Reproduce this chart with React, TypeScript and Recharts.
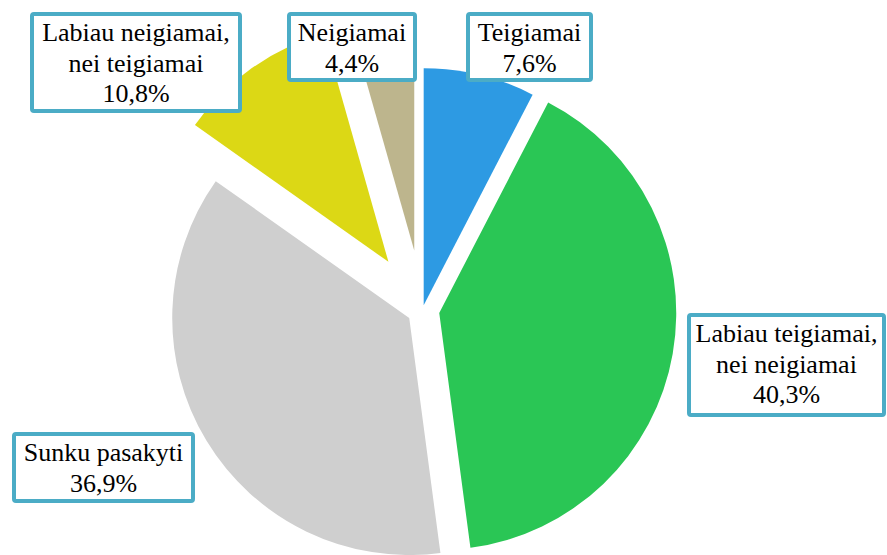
import { PieChart, Pie, Cell, Sector } from "recharts";

// Values (clockwise from 12 o'clock)
const categories = [
  "Teigiamai",
  "Labiau teigiamai, nei neigiamai",
  "Sunku pasakyti",
  "Labiau neigiamai, nei teigiamai",
  "Neigiamai",
];
const values = [7.6, 40.3, 36.9, 10.8, 4.4];
const labelLines = [
  ["Teigiamai"],
  ["Labiau teigiamai,", "nei neigiamai"],
  ["Sunku pasakyti"],
  ["Labiau neigiamai,", "nei teigiamai"],
  ["Neigiamai"],
];

const colors = ["#2D9AE3", "#2AC655", "#CFCFCF", "#DCD815", "#BDB58D"];
// how far each slice is pulled out of the pie, px
const explode = [5, 17, 15.5, 59, 60];
// label boxes: x, y, w, h (outer edge of border)
const labelBoxes = [
  [466, 12, 127, 70],
  [687, 313, 199, 104],
  [12, 432, 183, 71],
  [30, 12, 212, 101],
  [287, 12, 130, 70],
];

const data = categories.map((name, i) => ({ name, value: values[i] }));

const FONT = '"Liberation Serif", "Times New Roman", serif';
const BORDER = "#4BACC6";

const fmt = (v: number) => v.toFixed(1).replace(".", ",") + "%";

const ExplodedSlice = (props: any) => {
  const name = props.payload?.name ?? props.name;
  const idx = categories.indexOf(name);
  const d = explode[idx] ?? 0;
  const rad = (-props.midAngle * Math.PI) / 180;
  return (
    <Sector
      {...props}
      cx={props.cx + d * Math.cos(rad)}
      cy={props.cy + d * Math.sin(rad)}
    />
  );
};

const renderLabel = (props: any) => {
  const i = props.index;
  const [x, y, w, h] = labelBoxes[i];
  const lines = [...labelLines[i], fmt(values[i])];
  return (
    <g key={`lbl-${i}`}>
      <rect
        x={x + 2}
        y={y + 2}
        width={w - 4}
        height={h - 4}
        rx={2}
        fill="#fff"
        stroke={BORDER}
        strokeWidth={4}
      />
      <text
        x={x + w / 2}
        y={y + 29}
        textAnchor="middle"
        fontFamily={FONT}
        fontSize={26}
        fill="#000"
      >
        {lines.map((l, k) => (
          <tspan key={k} x={x + w / 2} dy={k === 0 ? 0 : 30.5}>
            {l}
          </tspan>
        ))}
      </text>
    </g>
  );
};

export default function App() {
  return (
    <div style={{ position: "absolute", left: 0, top: 0, background: "#fff" }}>
      <PieChart width={887} height={555} margin={{ top: 0, right: 0, bottom: 0, left: 0 }}>
        <Pie
          data={data}
          dataKey="value"
          nameKey="name"
          cx={422.5}
          cy={310}
          outerRadius={237}
          startAngle={90}
          endAngle={-270}
          stroke="none"
          shape={ExplodedSlice}
          activeShape={ExplodedSlice}
          inactiveShape={ExplodedSlice}
          label={renderLabel}
          labelLine={false}
          isAnimationActive={false}
        >
          {data.map((_, i) => (
            <Cell key={`cell-${i}`} fill={colors[i]} />
          ))}
        </Pie>
      </PieChart>
    </div>
  );
}
